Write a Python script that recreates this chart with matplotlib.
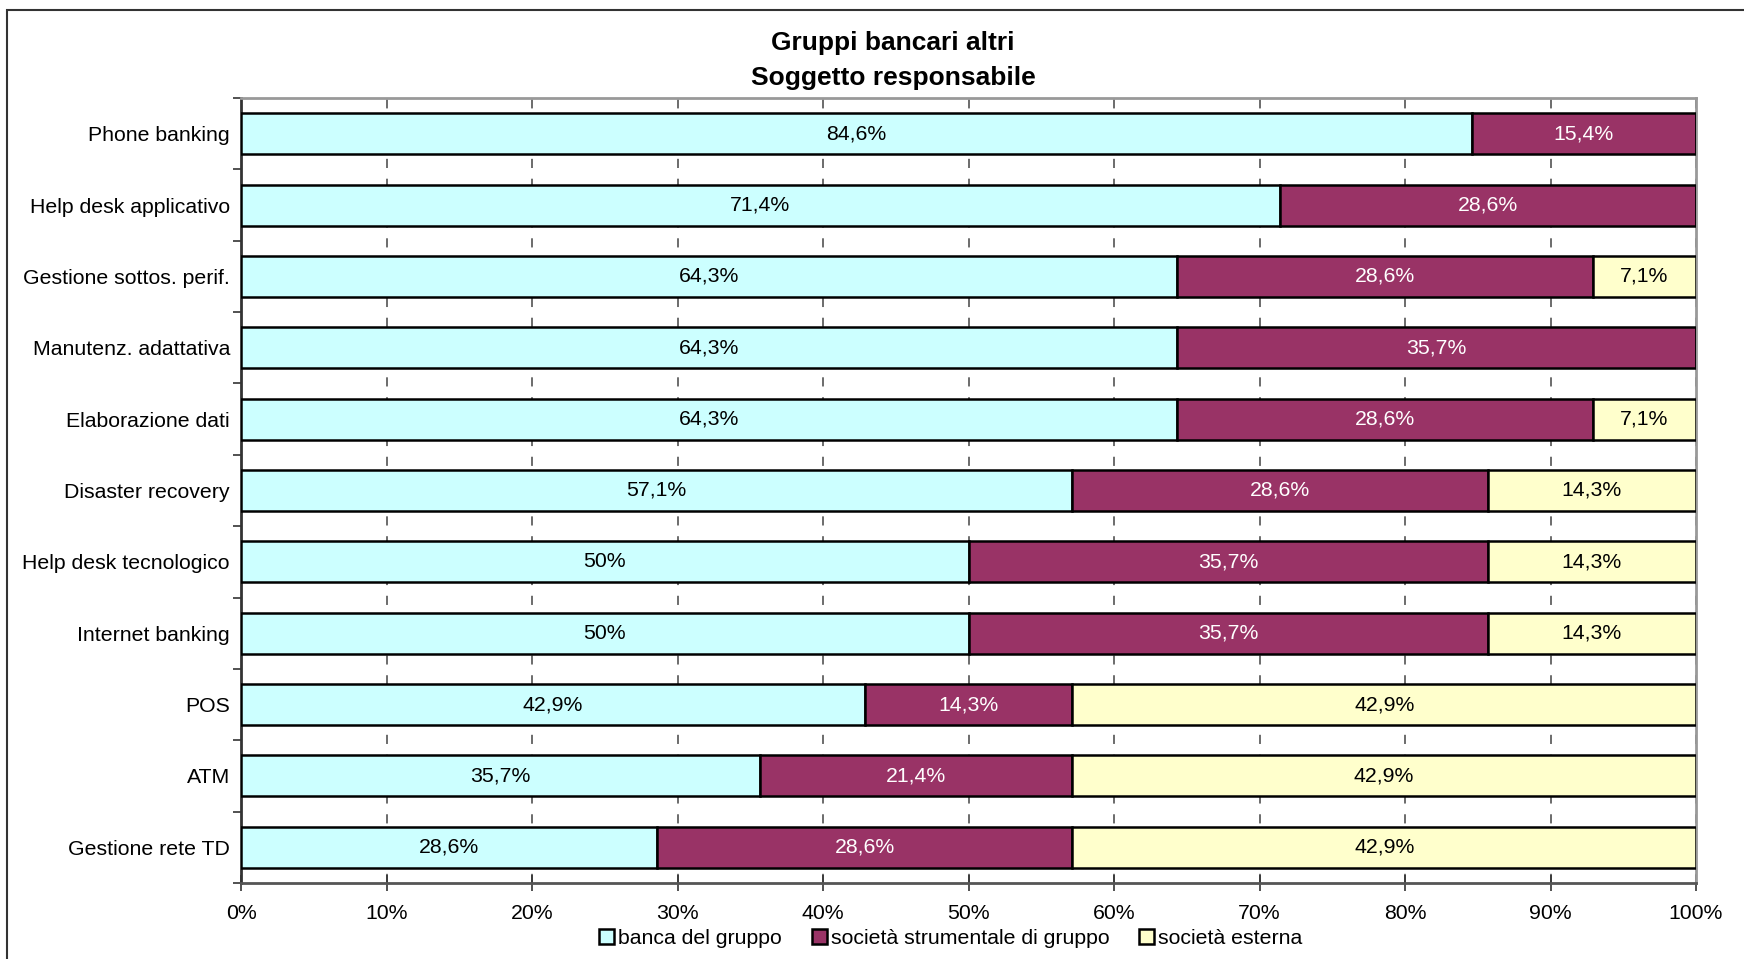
import matplotlib.pyplot as plt
import numpy as np
from matplotlib.patches import Rectangle

plt.rcParams['font.family'] = ['Liberation Sans', 'DejaVu Sans']

# dati
categorie = ["Phone banking", "Help desk applicativo", "Gestione sottos. perif.",
             "Manutenz. adattativa", "Elaborazione dati", "Disaster recovery",
             "Help desk tecnologico", "Internet banking", "POS", "ATM",
             "Gestione rete TD"]
banca_gruppo = [84.6, 71.4, 64.3, 64.3, 64.3, 57.1, 50.0, 50.0, 42.9, 35.7, 28.6]
soc_strumentale = [15.4, 28.6, 28.6, 35.7, 28.6, 28.6, 35.7, 35.7, 14.3, 21.4, 28.6]
soc_esterna = [0.0, 0.0, 7.1, 0.0, 7.1, 14.3, 14.3, 14.3, 42.9, 42.9, 42.9]
serie_nomi = ["banca del gruppo", "società strumentale di gruppo", "società esterna"]
colori = ["#CCFFFF", "#993366", "#FFFFCC"]
colori_testo = ["black", "white", "black"]
tick_x = [0, 10, 20, 30, 40, 50, 60, 70, 80, 90, 100]


def etichetta(v):
    s = f"{v:.1f}".replace(".", ",")
    if s.endswith(",0"):
        s = s[:-2]
    return s + "%"


fig = plt.figure(figsize=(17.44, 9.59), dpi=100)
ax = fig.add_axes([241 / 1744, 1 - 883 / 959, (1696 - 241) / 1744, (883 - 98) / 959])

dati = np.array([banca_gruppo, soc_strumentale, soc_esterna])
totali = dati.sum(axis=0)
y = np.arange(len(categorie))
sinistra = np.zeros(len(categorie))
for i in range(3):
    larg = dati[i] / totali * 100
    ax.barh(y, larg, left=sinistra, height=0.575, color=colori[i],
            edgecolor="black", linewidth=1.8, label=serie_nomi[i], zorder=3)
    for j in range(len(categorie)):
        if dati[i][j] > 0:
            ax.text(sinistra[j] + larg[j] / 2, y[j], etichetta(dati[i][j]),
                    ha="center", va="center", fontsize=15.3,
                    color=colori_testo[i], zorder=4)
    sinistra += larg

ax.set_xlim(0, 100)
ax.set_ylim(len(categorie) - 0.5, -0.5)
ax.set_xticks(tick_x)
ax.set_xticklabels([f"{t}%" for t in tick_x], fontsize=15.3)
ax.set_yticks(y)
ax.set_yticklabels(categorie, fontsize=15.3)
ax.tick_params(axis="y", length=0, pad=8)
ax.set_yticks(np.arange(len(categorie) + 1) - 0.5, minor=True)
ax.tick_params(axis="y", which="minor", length=6, width=1.2, color="#333333")
ax.tick_params(axis="x", direction="inout", length=12, width=1.2,
               color="#333333", pad=9)

ax.grid(axis="x", color="#444444", linestyle=(0, (6, 7)), linewidth=1.1, zorder=0)
for lato in ["top", "right"]:
    ax.spines[lato].set_color("#999999")
    ax.spines[lato].set_linewidth(2)
ax.spines["left"].set_color("#333333")
ax.spines["left"].set_linewidth(2)
ax.spines["bottom"].set_color("#555555")
ax.spines["bottom"].set_linewidth(2)

fig.text(893 / 1744, 1 - 43 / 959, "Gruppi bancari altri", ha="center",
         va="center", fontsize=19, fontweight="bold")
fig.text(893 / 1744, 1 - 78 / 959, "Soggetto responsabile", ha="center",
         va="center", fontsize=19, fontweight="bold")

fig.legend(loc="center", bbox_to_anchor=(951 / 1744, 1 - 938 / 959), ncol=3,
           frameon=False, fontsize=15.3, handlelength=0.7, handleheight=0.7,
           handletextpad=0.2, columnspacing=1.4, borderpad=0)

fig.patches.append(Rectangle((7 / 1744, -0.1), 1.2, 1.1 - 10 / 959,
                             transform=fig.transFigure, fill=False,
                             edgecolor="#333333", linewidth=1.5))

fig.savefig("out.png", dpi=100)
